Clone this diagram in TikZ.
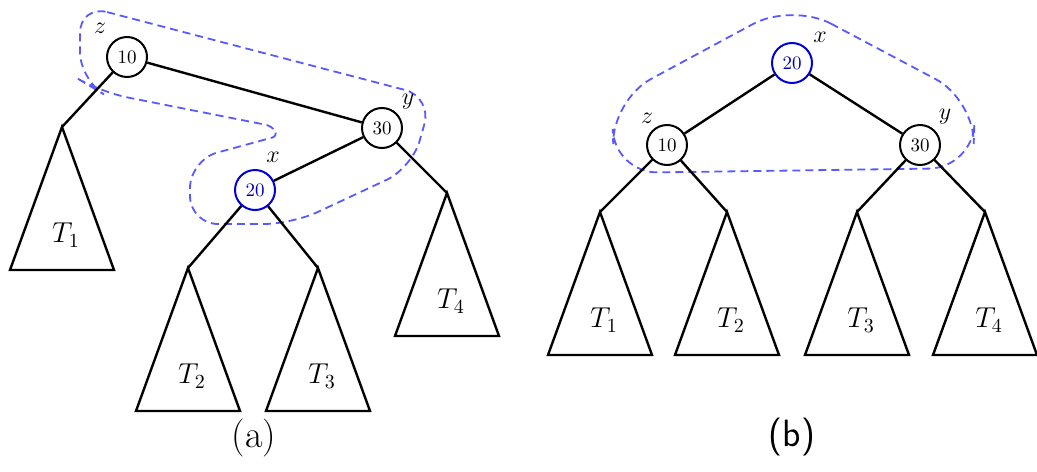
\documentclass[tikz,border=0pt]{standalone}
\usepackage{tikz}
\usetikzlibrary{positioning}
\tikzset{
  key/.style={draw, circle, line width=1pt, minimum size=20pt, inner sep=0pt, fill=white, font=\fontsize{9.5}{10}\selectfont},
  pivot/.style={draw=blue!85!black, text=blue!70!black},
  tag/.style={inner sep=0pt, font=\fontsize{12}{13}\selectfont},
  sub/.style={inner sep=0pt, font=\fontsize{14}{16}\selectfont},
  hull/.style={draw=blue!65!white, line width=0.9pt, dash pattern=on 4pt off 2.5pt},
  capt/.style={inner sep=0pt, font=\fontsize{19}{22}\selectfont}
}
% triangle for a subtree hanging from an apex coordinate
\newcommand{\subtree}[2]{%
  \draw[line width=1.2pt, line join=miter] (#1) -- ++(-52,143) -- ++(104,0) -- cycle;
  \path (#1) ++(4,108) node[sub] (#1-t) {$#2$};}

\begin{document}
\begin{tikzpicture}[x=0.5pt, y=-0.5pt, line width=1.2pt]
\useasboundingbox (0,0) rectangle (1037,471);

% (a) before the rotation
\draw[hull, rounded corners=14pt] (80,5) -- (432,97) -- (412,168) -- (292,224) -- (190,224) -- (190,160)
  [rounded corners=3pt] -- (278,136) -- (272,126) [rounded corners=14pt] -- (100,92) -- (80,80) -- cycle;
\node[key] (z1) at (127,57) {10};
\node[key] (y1) at (382,128) {30};
\node[key, pivot] (x1) at (255,190) {20};
\node[tag] (z1-l) at (100,28) {$z$};
\node[tag] (y1-l) at (408,102) {$y$};
\node[tag] (x1-l) at (273,157) {$x$};
\coordinate (a1) at (62,127);
\coordinate (a2) at (188,268);
\coordinate (a3) at (318,268);
\coordinate (a4) at (447,193);
\draw (z1) -- (a1);
\draw (z1) -- (y1);
\draw (y1) -- (x1);
\draw (y1) -- (a4);
\draw (x1) -- (a2);
\draw (x1) -- (a3);
\subtree{a1}{T_1}
\subtree{a2}{T_2}
\subtree{a3}{T_3}
\subtree{a4}{T_4}
\node[capt] (capa) at (254,438) {(a)};

% (b) after the rotation
\draw[hull, rounded corners=22pt] (792,3) -- (975,100) -- (973,168) -- (614,173) -- (612,100) -- cycle;
\node[key, pivot] (x2) at (792,63) {20};
\node[key] (z2) at (667,145) {10};
\node[key] (y2) at (920,145) {30};
\node[tag] (x2-l) at (820,37) {$x$};
\node[tag] (z2-l) at (647,118) {$z$};
\node[tag] (y2-l) at (945,117) {$y$};
\coordinate (b1) at (600,212);
\coordinate (b2) at (727,212);
\coordinate (b3) at (857,212);
\coordinate (b4) at (985,212);
\draw (x2) -- (z2);
\draw (x2) -- (y2);
\draw (z2) -- (b1);
\draw (z2) -- (b2);
\draw (y2) -- (b3);
\draw (y2) -- (b4);
\subtree{b1}{T_1}
\subtree{b2}{T_2}
\subtree{b3}{T_3}
\subtree{b4}{T_4}
\node[capt, font=\fontsize{19}{22}\selectfont\sffamily] (capb) at (792,437) {(b)};
\end{tikzpicture}
\end{document}
